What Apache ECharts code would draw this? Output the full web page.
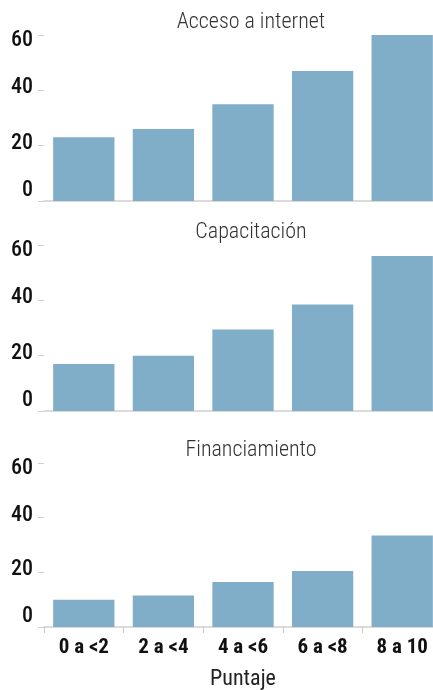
<!DOCTYPE html>
<html>
<head>
<meta charset="utf-8">
<script src="https://cdn.jsdelivr.net/npm/echarts@6/dist/echarts.min.js"></script>
<style>
  html, body { margin: 0; padding: 0; background: #fff; }
  #chart { width: 433px; height: 690px; }
</style>
</head>
<body>
<div id="chart"></div>
<script>
const categories = ['0 a <2', '2 a <4', '4 a <6', '6 a <8', '8 a 10']
const panelTitles = ['Acceso a internet', 'Capacitación', 'Financiamiento']
const internetValues = [23, 26, 35, 47, 60]
const capacitacionValues = [17, 20, 29.5, 38.5, 56]
const financiamientoValues = [10, 11.5, 16.5, 20.5, 33.5]
const yTicks = [0, 20, 40, 60]

const font = "'Roboto Condensed', sans-serif"
const barColor = '#80adc8'

const chart = echarts.init(document.getElementById('chart'))

const panels = [internetValues, capacitacionValues, financiamientoValues]
const tops = [35, 245, 463]
const heights = [166, 166, 164]

const yLabelStyle = { fontFamily: font, fontSize: 22, fontWeight: 500, color: '#111' }

const option = {
  animation: false,
  textStyle: { fontFamily: font },
  title: panelTitles.map((t, i) => ({
    text: t,
    left: 246,
    textAlign: 'center',
    top: tops[i] - 29,
    textStyle: { fontFamily: font, fontSize: 22, fontWeight: 300, color: '#333' }
  })),
  grid: tops.map((top, i) => ({
    left: 44,
    width: 398,
    top: top,
    height: heights[i],
    outerBoundsMode: 'none',
    containLabel: false
  })),
  xAxis: panels.map((_, i) => ({
    type: 'category',
    gridIndex: i,
    data: categories,
    axisLine: { show: true, lineStyle: { color: '#d0d0d0', width: 1.5 } },
    axisTick: { show: i === 2, length: 6, lineStyle: { color: '#c8c8c8' } },
    axisLabel: {
      show: i === 2,
      interval: 0,
      fontFamily: font,
      fontSize: 21,
      fontWeight: 'bold',
      color: '#111',
      margin: 10
    },
    name: i === 2 ? 'Puntaje' : '',
    nameLocation: 'middle',
    nameGap: 41,
    nameTextStyle: { fontFamily: font, fontSize: 22, color: '#222' }
  })),
  yAxis: panels.map((_, i) => ({
    type: 'value',
    gridIndex: i,
    min: 0,
    max: 60,
    interval: 20,
    axisLine: { show: false },
    axisTick: { show: true, length: 6, lineStyle: { color: '#d0d0d0' } },
    splitLine: { show: false },
    axisLabel: {
      ...yLabelStyle,
      margin: 11,
      verticalAlignMinLabel: 'bottom',
      formatter: v => {
        if (!yTicks.includes(v)) return ''
        if (v === 0) return '{min|0}'
        if (v === 60) return '{max|60}'
        return '{mid|' + v + '}'
      },
      rich: {
        min: { ...yLabelStyle },
        mid: { ...yLabelStyle, padding: [0, 0, 5, 0] },
        max: { ...yLabelStyle, padding: [10, 0, 0, 0] }
      }
    }
  })),
  series: panels.map((vals, i) => ({
    type: 'bar',
    xAxisIndex: i,
    yAxisIndex: i,
    data: vals,
    barCategoryGap: '23%',
    itemStyle: { color: barColor },
    emphasis: { disabled: true }
  }))
}

chart.setOption(option)
</script>
</body>
</html>
